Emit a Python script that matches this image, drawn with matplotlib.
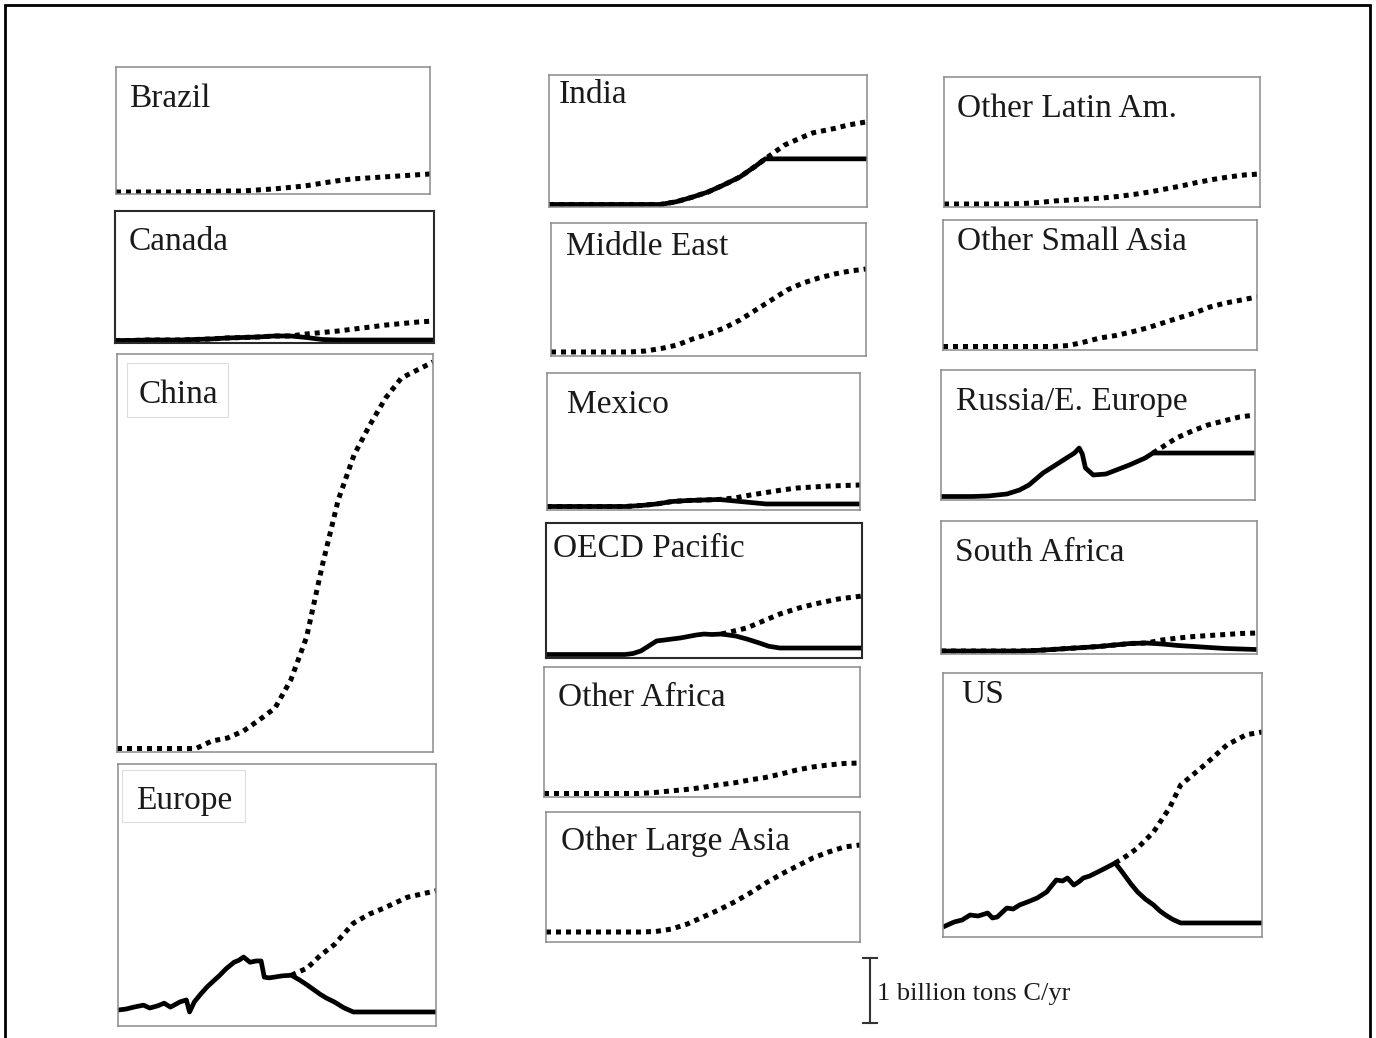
import matplotlib.pyplot as plt
from matplotlib.patches import Rectangle
from matplotlib.lines import Line2D

W, H = 1376, 1038
PX_PER_GT = 65.0  # height of the "1 billion tons C/yr" scale bar in pixels

plt.rcParams['font.family'] = ['Liberation Serif', 'DejaVu Serif']

# emissions in billion tons C/yr; dotted = no policy, solid = with policy
YEARS = list(range(1900, 2101, 10))

BRAZIL_BAU = [0, 0, 0, 0, 0, .008, .008, .015, .015, .031, .046, .069, .092, .131, .169, .2, .215, .231, .246, .262, .277]

CANADA_BAU = [.008, .008, .015, .015, .015, .023, .031, .046, .054, .062, .077, .077, .108, .131, .154, .185, .215, .246, .269, .292, .308]
CANADA_POL = [.008, .008, .015, .015, .015, .023, .031, .046, .054, .062, .077, .077, .054, .023, .015, .015, .015, .015, .015, .015, .015]

CHINA_BAU = [.023, .023, .023, .023, .023, .023, .138, .185, .292, .462, .646, 1.077, 1.738, 2.846, 3.846, 4.538, 5.0, 5.415, 5.723, 5.846, 5.969]

EUROPE_POL_YEARS = [1900, 1905, 1910, 1916, 1920, 1925, 1929, 1933, 1939, 1943, 1945, 1948, 1952, 1956, 1960, 1964,
                    1968, 1973, 1976, 1979, 1983, 1987, 1990, 1992, 1995, 1998, 2003, 2009, 2014, 2019, 2023, 2027,
                    2031, 2036, 2042, 2048, 2100]
EUROPE_POL = [.215, .23, .26, .29, .246, .28, .32, .26, .34, .37, .185, .34, .46, .57, .66, .75,
              .85, .95, .98, 1.03, .95, .97, .97, .72, .71, .72, .74, .75, .68, .6, .53, .46,
              .4, .34, .25, .185, .185]
EUROPE_BAU_YEARS = [2009, 2019, 2027, 2036, 2048, 2058, 2067, 2082, 2100]
EUROPE_BAU = [.75, .86, 1.05, 1.22, 1.55, 1.69, 1.78, 1.95, 2.05]

INDIA_YEARS = [1900, 1970, 1980, 1990, 2000, 2010, 2020, 2030, 2036, 2048, 2060, 2066, 2080, 2088, 2100]
INDIA_BAU = [.008, .008, .05, .12, .2, .31, .43, .6, .71, .92, 1.05, 1.11, 1.18, 1.23, 1.28]
INDIA_POL = [.008, .008, .05, .12, .2, .31, .43, .6, .71, .71, .71, .71, .71, .71, .71]

MIDEAST_BAU = [.031, .031, .031, .031, .031, .031, .046, .085, .138, .231, .308, .4, .523, .677, .831, .985, 1.092, 1.169, 1.231, 1.277, 1.308]

MEXICO_BAU = [.023, .023, .023, .023, .023, .023, .038, .062, .1, .115, .123, .131, .154, .2, .238, .277, .308, .323, .338, .346, .354]
MEXICO_POL = [.023, .023, .023, .023, .023, .023, .038, .062, .1, .115, .123, .131, .108, .085, .062, .062, .062, .062, .062, .062, .062]

OECDP_POL_YEARS = [1900, 1950, 1955, 1960, 1965, 1970, 1975, 1980, 1985, 1990, 1995, 2000, 2005, 2011, 2020, 2027, 2035, 2041, 2048, 2100]
OECDP_POL = [.023, .023, .038, .077, .154, .231, .246, .262, .277, .3, .323, .338, .331, .338, .308, .262, .2, .15, .123, .123]
OECDP_BAU_YEARS = [2011, 2027, 2048, 2060, 2070, 2085, 2100]
OECDP_BAU = [.338, .431, .646, .738, .8, .877, .923]

OTH_AFRICA_BAU = [.023, .023, .023, .023, .023, .023, .023, .038, .062, .085, .115, .154, .185, .231, .269, .323, .385, .431, .462, .485, .492]
OTH_LARGE_ASIA_BAU = [.123, .123, .123, .123, .123, .123, .123, .131, .169, .246, .354, .462, .585, .723, .877, 1.015, 1.138, 1.262, 1.354, 1.431, 1.462]
OTH_LATAM_BAU = [.015, .015, .015, .015, .015, .023, .038, .062, .077, .092, .108, .131, .162, .2, .246, .292, .346, .392, .431, .462, .477]
OTH_SMALL_ASIA_BAU = [.023, .023, .023, .023, .023, .023, .023, .023, .038, .092, .154, .192, .246, .308, .385, .462, .538, .631, .692, .738, .785]

RUSSIA_POL_YEARS = [1900, 1920, 1930, 1942, 1950, 1956, 1965, 1972, 1978, 1985, 1988, 1990, 1992, 1997, 2005, 2010, 2020, 2030, 2035, 2100]
RUSSIA_POL = [.023, .023, .031, .062, .123, .2, .385, .492, .585, .692, .769, .677, .462, .354, .369, .415, .508, .615, .692, .692]
RUSSIA_BAU_YEARS = [2035, 2050, 2060, 2070, 2080, 2090, 2100]
RUSSIA_BAU = [.692, .923, 1.031, 1.123, 1.185, 1.246, 1.277]

S_AFRICA_BAU = [.015, .015, .015, .015, .015, .015, .023, .038, .054, .069, .085, .108, .131, .138, .185, .215, .238, .254, .269, .285, .292]
S_AFRICA_POL = [.015, .015, .015, .015, .015, .015, .023, .038, .054, .069, .085, .108, .131, .138, .123, .1, .085, .069, .054, .046, .038]

US_POL_YEARS = [1900, 1907, 1912, 1917, 1922, 1928, 1931, 1934, 1940, 1944, 1948, 1953, 1959, 1965, 1971,
                1975, 1978, 1982, 1985, 1988, 1992, 1997, 2002, 2008, 2012, 2018, 2022, 2027, 2032, 2036,
                2040, 2044, 2049, 2100]
US_POL = [.123, .2, .231, .308, .292, .338, .262, .277, .415, .4, .462, .508, .569, .662, .846,
          .831, .877, .769, .815, .877, .908, .969, 1.031, 1.108, .98, .78, .662, .55, .462, .37,
          .3, .24, .185, .185]
US_BAU_YEARS = [2008, 2015, 2022, 2032, 2042, 2049, 2064, 2078, 2090, 2100]
US_BAU = [1.108, 1.215, 1.338, 1.585, 1.954, 2.308, 2.615, 2.923, 3.08, 3.123]

# layout in pixels: name, box (left, top, right, bottom), title (x, baseline), dotted, solid, dark frame, label frame
panels = [
    ("Brazil", (116, 67, 430, 194), (129, 107), (YEARS, BRAZIL_BAU), None, False, None),
    ("Canada", (115, 211, 434, 343), (129, 250), (YEARS, CANADA_BAU), (YEARS, CANADA_POL), True, None),
    ("China", (117, 354, 433, 752), (139, 403), (YEARS, CHINA_BAU), None, False, (127, 363, 228, 417)),
    ("Europe", (118, 764, 436, 1026), (136, 809), (EUROPE_BAU_YEARS, EUROPE_BAU), (EUROPE_POL_YEARS, EUROPE_POL), False, (122, 770, 245, 822)),
    ("India", (549, 75, 867, 207), (559, 103), (INDIA_YEARS, INDIA_BAU), (INDIA_YEARS, INDIA_POL), False, None),
    ("Middle East", (551, 223, 866, 356), (566, 255), (YEARS, MIDEAST_BAU), None, False, None),
    ("Mexico", (547, 373, 860, 510), (567, 413), (YEARS, MEXICO_BAU), (YEARS, MEXICO_POL), False, None),
    ("OECD Pacific", (546, 523, 862, 658), (553, 557), (OECDP_BAU_YEARS, OECDP_BAU), (OECDP_POL_YEARS, OECDP_POL), True, None),
    ("Other Africa", (544, 667, 860, 797), (558, 706), (YEARS, OTH_AFRICA_BAU), None, False, None),
    ("Other Large Asia", (546, 812, 860, 942), (561, 850), (YEARS, OTH_LARGE_ASIA_BAU), None, False, None),
    ("Other Latin Am.", (944, 77, 1260, 207), (957, 117), (YEARS, OTH_LATAM_BAU), None, False, None),
    ("Other Small Asia", (943, 220, 1257, 350), (957, 250), (YEARS, OTH_SMALL_ASIA_BAU), None, False, None),
    ("Russia/E. Europe", (941, 370, 1255, 500), (956, 410), (RUSSIA_BAU_YEARS, RUSSIA_BAU), (RUSSIA_POL_YEARS, RUSSIA_POL), False, None),
    ("South Africa", (941, 521, 1257, 654), (955, 561), (YEARS, S_AFRICA_BAU), (YEARS, S_AFRICA_POL), False, None),
    ("US", (943, 673, 1262, 937), (961, 703), (US_BAU_YEARS, US_BAU), (US_POL_YEARS, US_POL), False, None),
]


def fx(x):
    return x / W


def fy(y):
    return 1 - y / H


fig = plt.figure(figsize=(W / 100, H / 100), dpi=100)

for name, (l, t, r, b), (tx, ty), bau, pol, dark, lab in panels:
    ax = fig.add_axes([fx(l), fy(b), (r - l) / W, (b - t) / H])
    ymin = -2 / PX_PER_GT
    ax.set_xlim(1900, 2100)
    ax.set_ylim(ymin, ymin + (b - t) / PX_PER_GT)
    ax.set_xticks([])
    ax.set_yticks([])
    for sp in ax.spines.values():
        sp.set_color('#2a2a2a' if dark else '#8a8a8a')
        sp.set_linewidth(1.5 if dark else 1.1)
    # business as usual (dotted) under the policy case (solid)
    ax.plot(bau[0], bau[1], color='black', lw=3.6, ls=(0, (1.0, 1.0)))
    if pol is not None:
        ax.plot(pol[0], pol[1], color='black', lw=3.4, solid_joinstyle='round', solid_capstyle='butt')
    if lab is not None:
        fig.add_artist(Rectangle((fx(lab[0]), fy(lab[3])), (lab[2] - lab[0]) / W, (lab[3] - lab[1]) / H,
                                 fill=False, edgecolor='#dddddd', lw=0.8, transform=fig.transFigure))
    fig.text(fx(tx), fy(ty), name, fontsize=24, color='#1a1a1a', va='baseline', ha='left')

# scale bar
fig.add_artist(Line2D([fx(870), fx(870)], [fy(958), fy(1023)], color='#333333', lw=1.5))
fig.add_artist(Line2D([fx(863), fx(877)], [fy(958), fy(958)], color='#333333', lw=1.5))
fig.add_artist(Line2D([fx(863), fx(877)], [fy(1023), fy(1023)], color='#333333', lw=1.5))
fig.text(fx(877), fy(1000), "1 billion tons C/yr", fontsize=19, color='#1a1a1a', va='baseline', ha='left')

# outer frame
fig.add_artist(Rectangle((fx(5), fy(1045)), (1370 - 5) / W, (1045 - 5) / H,
                         fill=False, edgecolor='black', lw=2, transform=fig.transFigure))

fig.savefig('out.png', dpi=100)
